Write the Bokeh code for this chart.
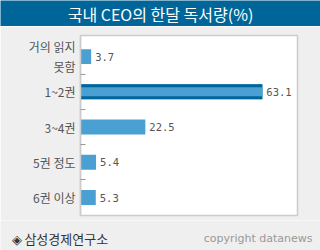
from bokeh.plotting import figure
from bokeh.models import Range1d, FixedTicker, Label, ColumnDataSource
from bokeh.layouts import column
from bokeh.embed import file_html
from bokeh.resources import INLINE
from bokeh.core.properties import value

# ---- data ----
categories = ["거의 읽지\n못함", "1~2권", "3~4권", "5권 정도", "6권 이상"]
values = [3.7, 63.1, 22.5, 5.4, 5.3]
highlight = [False, True, False, False, False]
title_text = "국내 CEO의 한달 독서량(%)"
source_text = "◈ 삼성경제연구소"
credit_text = "copyright datanews"

BG = "#efefef"
DARK = "#006699"
LIGHT = "#4aa0d2"

# ---- header ----
h = figure(width=320, height=26, x_range=Range1d(0, 320), y_range=Range1d(0, 26),
           output_backend="svg", toolbar_location=None, min_border=0)
h.axis.visible = False
h.grid.visible = False
h.outline_line_color = None
h.background_fill_color = DARK
h.border_fill_color = DARK
h.frame_align = False
h.add_layout(Label(x=160, y=13, text=title_text, text_align="center", text_baseline="middle",
                   text_color="white", text_font="Noto Sans CJK KR",
                   text_font_size="16px"))

# ---- main ----
ys = list(range(len(categories)))
src = ColumnDataSource(dict(y=ys, v=values, lab=[f"{x:.1f}" for x in values]))
hi_src = ColumnDataSource(dict(y=[y for y, f in zip(ys, highlight) if f],
                               v=[v for v, f in zip(values, highlight) if f]))

p = figure(width=320, height=194, x_range=Range1d(0, 75.3), y_range=Range1d(4.51, -0.6),
           output_backend="svg", toolbar_location=None,
           min_border_left=80, min_border_right=23, min_border_top=9, min_border_bottom=5)
p.background_fill_color = "white"
p.border_fill_color = BG
p.outline_line_color = "#cccccc"
p.outline_line_width = 1.5
p.grid.visible = False
p.xaxis.visible = False
p.frame_align = False

p.hbar(y="y", right="v", left=0, height=0.425, source=src, fill_color=LIGHT, line_color=None)
p.hbar(y="y", right="v", left=0, height=0.425, source=hi_src, fill_color=DARK, line_color=None)
p.hbar(y="y", right="v", left=0, height=0.255, source=hi_src, fill_color=LIGHT, line_color=None)

p.text(x="v", y="y", text="lab", source=src, x_offset=4, text_baseline="middle",
       text_align="left", text_color="#555555", text_font=value("DejaVu Sans Mono"),
       text_font_size="10.5px")

ax = p.yaxis[0]
ax.ticker = FixedTicker(ticks=ys, minor_ticks=[y + 0.5 for y in ys[:-1]])
ax.major_label_overrides = {y: c for y, c in zip(ys, categories)}
ax.major_tick_in = 0
ax.major_tick_out = 0
ax.minor_tick_in = 5
ax.minor_tick_out = 0
ax.minor_tick_line_color = "#999999"
ax.axis_line_color = "#cccccc"
ax.axis_line_width = 1.5
ax.major_label_standoff = 5
ax.major_label_text_font = "Noto Sans CJK KR"
ax.major_label_text_font_size = "12px"
ax.major_label_text_color = "#555555"

# ---- footer ----
f = figure(width=320, height=30, x_range=Range1d(0, 320), y_range=Range1d(30, 0),
           output_backend="svg", toolbar_location=None, min_border=0)
f.axis.visible = False
f.grid.visible = False
f.outline_line_color = None
f.background_fill_color = BG
f.border_fill_color = BG
f.frame_align = False
f.add_layout(Label(x=11, y=18, text=source_text, text_align="left", text_baseline="middle",
                   text_color="#333333", text_font="Noto Sans CJK KR",
                   text_font_size="13px"))
f.add_layout(Label(x=312, y=18, text=credit_text, text_align="right", text_baseline="middle",
                   text_color="#999999", text_font="DejaVu Sans",
                   text_font_size="11px"))

layout = column(h, p, f, spacing=0)
open("out.html", "w").write(file_html(layout, INLINE))
